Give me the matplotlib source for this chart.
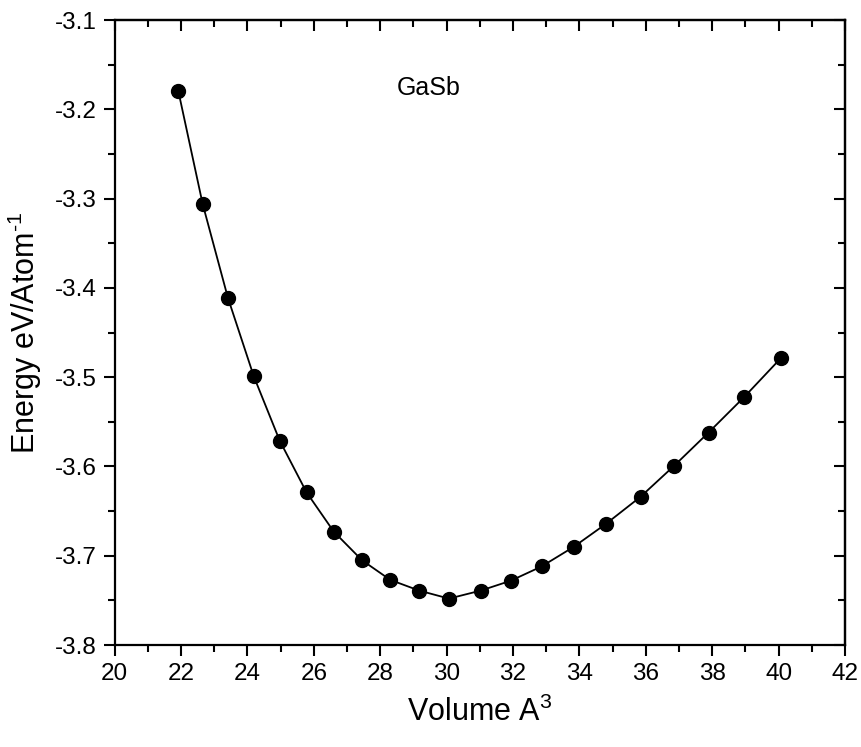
import matplotlib
matplotlib.use('Agg')
import matplotlib.pyplot as plt
from matplotlib.ticker import MultipleLocator

# volume (A^3) and total energy (eV/atom)
volume = [21.92, 22.65, 23.41, 24.19, 24.97, 25.78, 26.60, 27.45, 28.30, 29.17, 30.07,
          31.03, 31.93, 32.86, 33.83, 34.81, 35.84, 36.86, 37.89, 38.97, 40.06]
energy = [-3.180, -3.306, -3.411, -3.499, -3.571, -3.629, -3.673, -3.705, -3.727, -3.739, -3.748,
          -3.739, -3.728, -3.712, -3.690, -3.664, -3.634, -3.599, -3.562, -3.522, -3.479]

plt.rcParams['font.family'] = ['Liberation Sans', 'DejaVu Sans']
plt.rcParams['mathtext.fontset'] = 'custom'
plt.rcParams['mathtext.rm'] = 'Liberation Sans'
plt.rcParams['mathtext.it'] = 'Liberation Sans'
plt.rcParams['mathtext.bf'] = 'Liberation Sans:bold'

fig = plt.figure(figsize=(8.61, 7.47), dpi=100)
ax = fig.add_axes([0.1332, 0.1365, 0.8482, 0.8367])

ax.plot(volume, energy, color='black', lw=1.3, marker='o', ms=10,
        markerfacecolor='black', markeredgecolor='black')

ax.set_xlim(20, 42)
ax.set_ylim(-3.8, -3.1)
ax.xaxis.set_major_locator(MultipleLocator(2))
ax.xaxis.set_minor_locator(MultipleLocator(1))
ax.yaxis.set_major_locator(MultipleLocator(0.1))
ax.yaxis.set_minor_locator(MultipleLocator(0.05))
ax.set_yticklabels(['%.1f' % v for v in ax.get_yticks()])

for s in ax.spines.values():
    s.set_linewidth(1.6)

ax.tick_params(which='major', direction='out', length=8, width=1.5, labelsize=17.5, pad=5)
ax.tick_params(which='minor', direction='out', length=5, width=1.5)

# top and right axes: ticks pointing in, no labels
top = ax.secondary_xaxis('top')
top.xaxis.set_major_locator(MultipleLocator(2))
top.xaxis.set_minor_locator(MultipleLocator(1))
top.tick_params(which='major', direction='in', length=8, width=1.5, labeltop=False)
top.tick_params(which='minor', direction='in', length=5, width=1.5)
right = ax.secondary_yaxis('right')
right.yaxis.set_major_locator(MultipleLocator(0.1))
right.yaxis.set_minor_locator(MultipleLocator(0.05))
right.tick_params(which='major', direction='in', length=8, width=1.5, labelright=False)
right.tick_params(which='minor', direction='in', length=5, width=1.5)
for sec in (top, right):
    for s in sec.spines.values():
        s.set_linewidth(1.6)

ax.set_xlabel('Volume A$^{\\mathrm{3}}$', fontsize=22, labelpad=8)
ax.set_ylabel('Energy eV/Atom$^{\\mathrm{\u2010 1}}$', fontsize=22, labelpad=8)

ax.text(29.45, -3.176, 'GaSb', fontsize=18, ha='center', va='center')

fig.savefig('out.png', dpi=100)
